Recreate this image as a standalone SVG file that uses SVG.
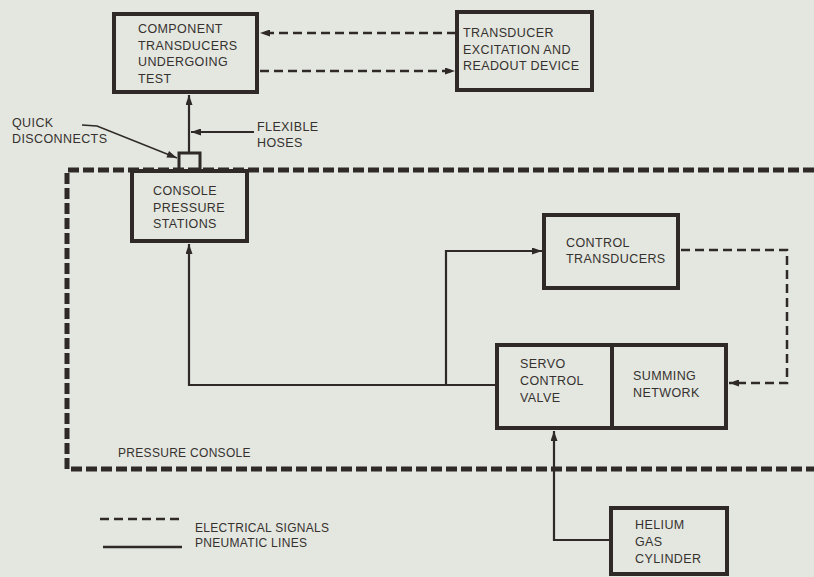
<svg xmlns="http://www.w3.org/2000/svg" width="814" height="577" viewBox="0 0 814 577">
<defs>
<style>
.bg{fill:#e3e7df}
.box{fill:none;stroke:#2f2a28;stroke-width:4}
.pn{fill:none;stroke:#2f2a28;stroke-width:2.2}
.el{fill:none;stroke:#2f2a28;stroke-width:2.5;stroke-dasharray:9 5}
.con{fill:none;stroke:#2f2a28;stroke-width:5;stroke-dasharray:11 4}
text{font-family:"Liberation Sans",Arial,sans-serif;font-size:12.5px;letter-spacing:0.4px;fill:#36312f}
.sm{font-size:12px;letter-spacing:0.3px}
</style>
<marker id="ah" viewBox="0 0 10 7" refX="10" refY="3.5" markerWidth="11" markerHeight="7" markerUnits="userSpaceOnUse" orient="auto">
<path d="M0,0 L10,3.5 L0,7 z" fill="#2f2a28"/>
</marker>
</defs>
<rect class="bg" x="0" y="0" width="814" height="577"/>

<g id="console-boundary">
<path class="con" d="M814,170 H67 V469 H814"/>
<text class="sm" x="118" y="457">PRESSURE CONSOLE</text>
</g>

<g id="connectors">
<line class="pn" x1="189" y1="153" x2="189" y2="95" marker-end="url(#ah)"/>
<path d="M179,171 V153 H200 V171" fill="none" stroke="#2f2a28" stroke-width="3"/>
<line class="pn" x1="254" y1="132" x2="191" y2="132" marker-end="url(#ah)"/>
<polyline fill="none" stroke="#2f2a28" stroke-width="1.5" points="82,125 97,126 177,158" marker-end="url(#ah)"/>
<line class="el" x1="456" y1="33" x2="260" y2="33" marker-end="url(#ah)"/>
<line class="el" x1="260" y1="71" x2="455" y2="71" marker-end="url(#ah)"/>
<path class="pn" d="M497,385 H189 V244" marker-end="url(#ah)"/>
<path class="pn" d="M446,385 V251 H542" marker-end="url(#ah)"/>
<path class="pn" d="M611,540 H554 V431" marker-end="url(#ah)"/>
<path class="el" d="M681,250 H787 V383 H729" marker-end="url(#ah)"/>
</g>

<g id="component-transducers">
<rect class="box" x="114" y="14" width="143" height="78"/>
<text x="138" y="33">COMPONENT</text>
<text x="138" y="49.5">TRANSDUCERS</text>
<text x="138" y="66">UNDERGOING</text>
<text x="138" y="82.5">TEST</text>
</g>

<g id="readout-device">
<rect class="box" x="457" y="12" width="135" height="78"/>
<text x="463" y="37">TRANSDUCER</text>
<text x="463" y="54">EXCITATION AND</text>
<text x="463" y="70">READOUT DEVICE</text>
</g>

<g id="quick-disconnects-label">
<text x="12" y="127">QUICK</text>
<text x="12" y="143">DISCONNECTS</text>
</g>

<g id="flexible-hoses-label">
<text x="257" y="131">FLEXIBLE</text>
<text x="257" y="147">HOSES</text>
</g>

<g id="console-pressure-stations">
<rect class="box" x="132" y="171" width="115" height="70" style="fill:#e3e7df"/>
<text x="153" y="195">CONSOLE</text>
<text x="153" y="212">PRESSURE</text>
<text x="153" y="228">STATIONS</text>
</g>

<g id="control-transducers">
<rect class="box" x="544" y="215" width="134" height="73"/>
<text x="566" y="247">CONTROL</text>
<text x="566" y="263">TRANSDUCERS</text>
</g>

<g id="servo-summing">
<rect class="box" x="497" y="345" width="229" height="83"/>
<line x1="612" y1="345" x2="612" y2="428" stroke="#2f2a28" stroke-width="4"/>
<text x="520" y="368">SERVO</text>
<text x="520" y="385">CONTROL</text>
<text x="520" y="402">VALVE</text>
<text x="633" y="380">SUMMING</text>
<text x="633" y="397">NETWORK</text>
</g>

<g id="helium-cylinder">
<rect class="box" x="611" y="508" width="116" height="66"/>
<text x="635" y="529">HELIUM</text>
<text x="635" y="546">GAS</text>
<text x="635" y="563">CYLINDER</text>
</g>

<g id="legend">
<line class="el" x1="100" y1="519" x2="180" y2="519"/>
<line x1="103" y1="547" x2="182" y2="547" stroke="#2f2a28" stroke-width="2.5"/>
<text class="sm" x="195" y="532">ELECTRICAL SIGNALS</text>
<text class="sm" x="195" y="547">PNEUMATIC LINES</text>
</g>
</svg>
